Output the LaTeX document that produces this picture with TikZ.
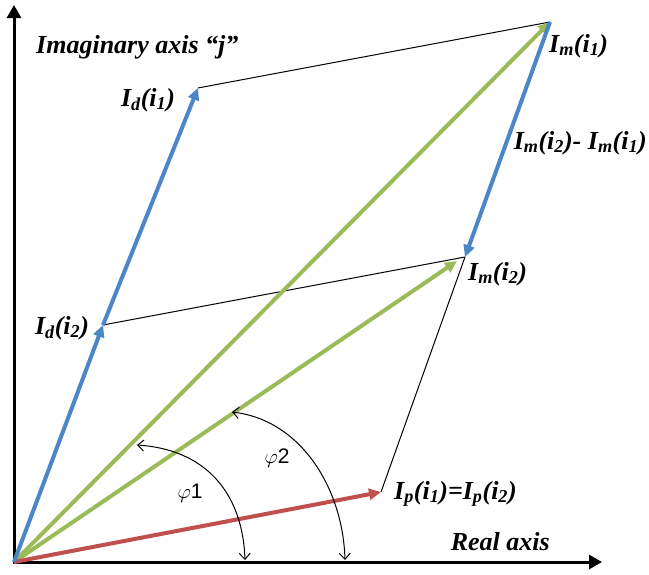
\documentclass[tikz,border=0pt]{standalone}
\usepackage{fontspec}
\setmainfont{Liberation Serif}
\newfontfamily\phifont{Liberation Sans}
\usetikzlibrary{arrows.meta}
\definecolor{vblue}{RGB}{74,134,200}
\definecolor{vgreen}{RGB}{155,187,89}
\definecolor{vred}{RGB}{192,80,77}
\begin{document}
\begin{tikzpicture}[x=1pt,y=-1pt,
 lab/.style={font=\fontsize{26}{30}\selectfont\bfseries\itshape, inner sep=0pt},
 vec/.style={line width=4pt, -{Triangle[length=12pt,width=11pt]}},
 conn/.style={line width=1pt},
 axis/.style={line width=3pt,-{Triangle[length=13pt,width=14pt]}},
 ang/.style={line width=1pt,{Straight Barb[length=6pt,width=11pt]}-{Straight Barb[length=6pt,width=11pt]}},
 angl/.style={font=\fontsize{21}{24}\selectfont\phifont, inner sep=0pt},
 ]
\useasboundingbox (0,0) rectangle (649,574);
% points
\coordinate (O) at (14,562);
\coordinate (Ytop) at (14,5);
\coordinate (Xr) at (602,562);
\coordinate (D2) at (103,325);
\coordinate (D1) at (198,88);
\coordinate (M1) at (550,22);
\coordinate (M2) at (465,257);
\coordinate (M2g) at (457,261);
\coordinate (P) at (381,492);
\coordinate (A1) at (137,445);
\coordinate (B1) at (245,560);
\coordinate (A2) at (232,412);
\coordinate (B2) at (345,560);
% axes
\draw[axis] ([yshift=1.5pt]O) -- (Ytop);
\draw[axis] ([xshift=-1.5pt]O) -- (Xr);
% black connectors
\draw[conn] (D1) -- (M1);
\draw[conn] (D2) -- (M2);
\draw[conn] (M2) -- (P);
% vectors
\draw[vec,vgreen] (O) -- (M1);
\draw[vec,vgreen] (O) -- (M2g);
\draw[vec,vred] (O) -- (P);
\draw[vec,vblue] (O) -- (D2);
\draw[vec,vblue] (D2) -- (D1);
\draw[vec,vblue] (M1) -- (M2);
% angles
\draw[ang] (A1) .. controls (212,450) and (243,500) .. (B1);
\draw[ang] (A2) .. controls (302,420) and (343,490) .. (B2);
\node[angl] (phi1) at (190,493) {$\varphi$1};
\node[angl] (phi2) at (277,458) {$\varphi$2};
% labels
\node[lab,anchor=west] (yl) at (36,47) {Imaginary axis “j”};
\node[lab,anchor=east] (xl) at (550,542) {Real axis};
\node[lab] (ld1) at (148,100) {I\textsubscript{d}(i\textsubscript{1})};
\node[lab] (ld2) at (62,328) {I\textsubscript{d}(i\textsubscript{2})};
\node[lab,anchor=west] (lm1) at (549,46) {I\textsubscript{m}(i\textsubscript{1})};
\node[lab,anchor=west] (lm2) at (468,274) {I\textsubscript{m}(i\textsubscript{2})};
\node[lab,anchor=east] (ldm) at (647,143) {I\textsubscript{m}(i\textsubscript{2})- I\textsubscript{m}(i\textsubscript{1})};
\node[lab,anchor=west] (lp) at (394,494) {I\textsubscript{p}(i\textsubscript{1})=I\textsubscript{p}(i\textsubscript{2})};
\end{tikzpicture}
\end{document}
